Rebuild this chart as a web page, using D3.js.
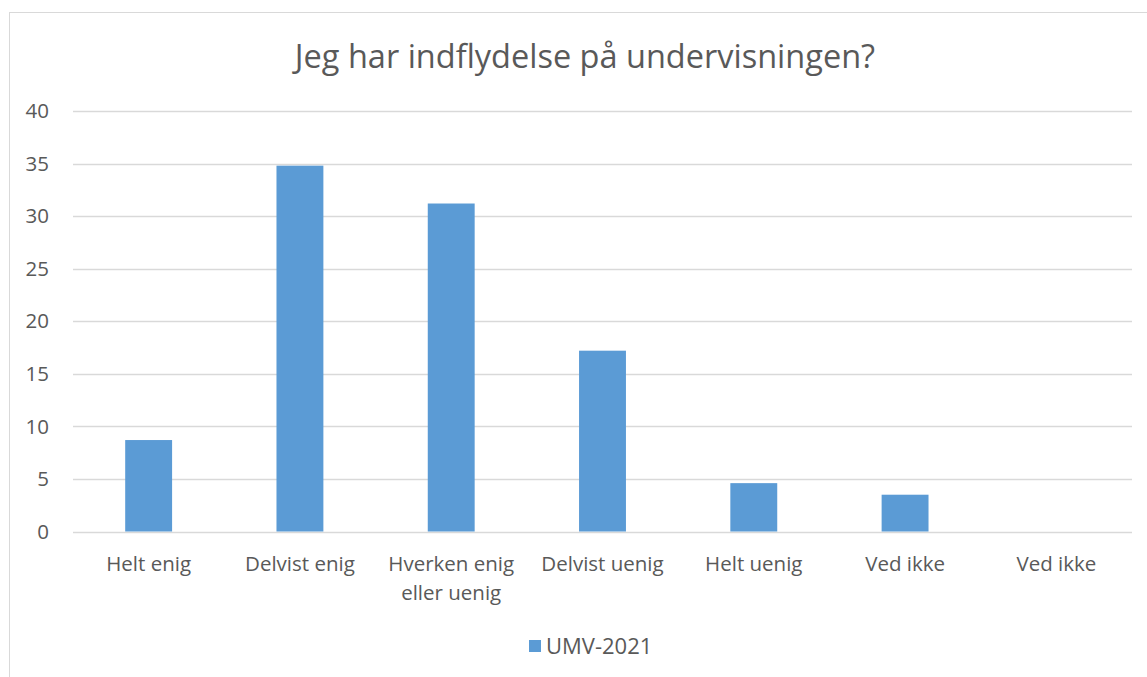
<!doctype html>
<html>
<head>
<meta charset="utf-8">
<script src="https://d3js.org/d3.v7.min.js"></script>
<style>
  body { margin: 0; background: #fff; }
  text { font-family: "Open Sans", sans-serif; fill: #595959; }
</style>
</head>
<body>
<svg width="1147" height="677" id="chart"></svg>
<script>
    // data
    var categories = ["Helt enig", "Delvist enig", "Hverken enig eller uenig", "Delvist uenig", "Helt uenig", "Ved ikke", "Ved ikke "];
    var values = [8.7, 34.8, 31.2, 17.2, 4.6, 3.5, 0];
    var yTicks = [0, 5, 10, 15, 20, 25, 30, 35, 40];
    var seriesName = "UMV-2021";
    var title = "Jeg har indflydelse på undervisningen?";

    var svg = d3.select("#chart");
    var plotLeft = 73, plotRight = 1132, plotTop = 111, plotBottom = 531.5;
    var barColor = "#5b9bd5";

    // chart border
    svg.append("rect")
       .attr("x", 9.5).attr("y", 12.5)
       .attr("width", 1160).attr("height", 700)
       .attr("fill", "none").attr("stroke", "#d9d9d9");

    // title
    svg.append("text")
       .attr("x", 585).attr("y", 68)
       .attr("text-anchor", "middle")
       .attr("font-size", "32.5px")
       .text(title);

    var x = d3.scaleBand().domain(categories).range([plotLeft, plotRight]).paddingInner(0.69).paddingOuter(0.345);
    var y = d3.scaleLinear().domain([0, 40]).range([plotBottom, plotTop]);

    // gridlines
    svg.append("g")
       .selectAll("line")
       .data(yTicks)
       .enter().append("line")
       .attr("x1", plotLeft).attr("x2", plotRight)
       .attr("y1", function(d) { return Math.round(y(d)) + 0.5; })
       .attr("y2", function(d) { return Math.round(y(d)) + 0.5; })
       .attr("stroke", "#d9d9d9").attr("stroke-width", 1.3);

    // y tick labels
    svg.append("g")
       .selectAll("text")
       .data(yTicks)
       .enter().append("text")
       .attr("x", 49).attr("y", function(d) { return y(d); })
       .attr("dy", "0.35em")
       .attr("text-anchor", "end")
       .attr("font-size", "20.5px")
       .text(function(d) { return d; });

    // bars
    svg.append("g")
       .selectAll("rect")
       .data(values)
       .enter().append("rect")
       .attr("x", function(d, i) { return x(categories[i]); })
       .attr("width", x.bandwidth())
       .attr("y", function(d) { return y(d); })
       .attr("height", function(d) { return y(0) - y(d); })
       .attr("fill", barColor);

    // x labels, wrapped like the original
    var wrapped = { "Hverken enig eller uenig": ["Hverken enig", "eller uenig"] };
    var xl = svg.append("g")
       .selectAll("text")
       .data(categories)
       .enter().append("text")
       .attr("text-anchor", "middle")
       .attr("font-size", "20.5px")
       .attr("x", function(d) { return x(d) + x.bandwidth() / 2; })
       .attr("y", 571);
    xl.each(function(d) {
        var lines = wrapped[d] || [d.trim()];
        var t = d3.select(this);
        lines.forEach(function(l, i) {
            t.append("tspan")
             .attr("x", x(d) + x.bandwidth() / 2)
             .attr("dy", i === 0 ? 0 : 29)
             .text(l);
        });
    });

    // legend
    svg.append("rect")
       .attr("x", 529).attr("y", 640)
       .attr("width", 12).attr("height", 12)
       .attr("fill", barColor);
    svg.append("text")
       .attr("x", 546).attr("y", 653.5)
       .attr("font-size", "22px")
       .text(seriesName);
</script>
</body>
</html>
